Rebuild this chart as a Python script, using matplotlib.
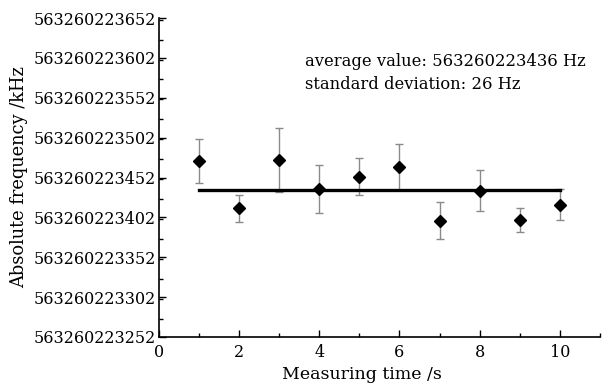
import matplotlib
matplotlib.use("Agg")
import matplotlib.pyplot as plt
from matplotlib.ticker import MultipleLocator, FormatStrFormatter

base = 563260223000
time_s = [1, 2, 3, 4, 5, 6, 7, 8, 9, 10]
freq_offset = [472.7, 413.4, 474.4, 438.0, 453.0, 465.6, 397.9, 435.5, 398.3, 417.9]
err = [28, 17, 40, 30, 23.5, 29, 23, 26, 15, 19.5]
mean_offset = 436.7
freq = [base + v for v in freq_offset]
mean_val = base + mean_offset

plt.rcParams['font.family'] = ['DejaVu Serif']
fig = plt.figure(figsize=(6.09, 3.85), dpi=100)
ax = fig.add_axes([0.261, 0.1247, 0.724, 0.8283])

ax.errorbar(time_s, freq, yerr=err, fmt='none', ecolor='#8a8a8a', elinewidth=1.0,
            capsize=3, capthick=1.0, zorder=2)
ax.plot(time_s, freq, linestyle='none', marker='D', color='black', markersize=6.5, zorder=4)
ax.plot([time_s[0], time_s[-1]], [mean_val, mean_val], color='black', linewidth=2.4, zorder=3)

ax.set_xlim(0, 11)
ax.set_ylim(base + 252, base + 652)
ax.xaxis.set_minor_locator(MultipleLocator(1))
ax.yaxis.set_minor_locator(MultipleLocator(25))
ax.yaxis.set_major_formatter(FormatStrFormatter('%d'))
ax.set_yticks([base + 252 + 50 * i for i in range(9)])
ax.set_xticks([0, 2, 4, 6, 8, 10])

for s in ['top', 'right']:
    ax.spines[s].set_visible(False)
for s in ['left', 'bottom']:
    ax.spines[s].set_linewidth(1.2)

ax.tick_params(axis='both', which='major', direction='in', length=5, width=1.0,
               labelsize=11.5)
ax.tick_params(axis='y', which='major', pad=2)
ax.tick_params(axis='x', which='major', pad=5)
ax.tick_params(axis='both', which='minor', direction='in', length=3, width=1.0)

ax.set_xlabel('Measuring time /s', fontsize=12.5)
ax.set_ylabel('Absolute frequency /kHz', fontsize=12.9, labelpad=4)
ax.xaxis.set_label_coords(0.46, -0.09)

ax.text(3.65, base + 597, 'average value: 563260223436 Hz', fontsize=11.8, va='center', ha='left')
ax.text(3.65, base + 569, 'standard deviation: 26 Hz', fontsize=11.8, va='center', ha='left')

fig.savefig('out.png', dpi=100)
